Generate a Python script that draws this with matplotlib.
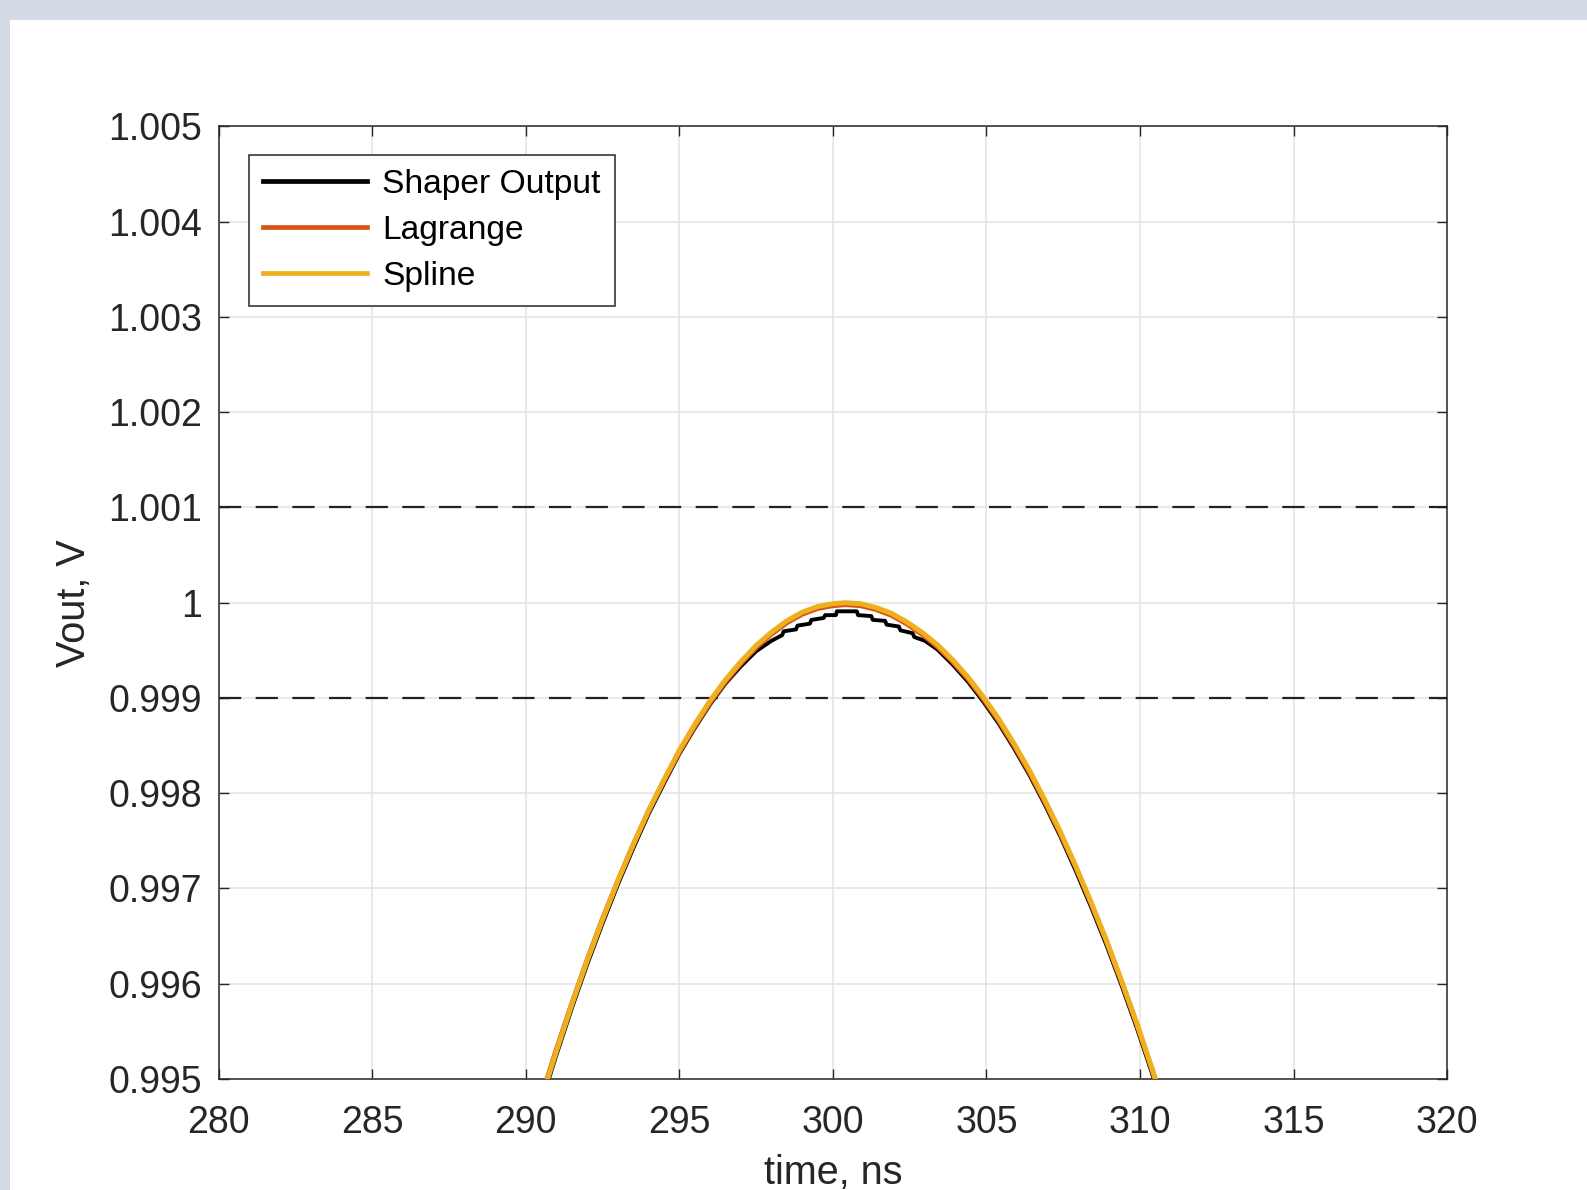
import matplotlib
matplotlib.use('Agg')
import matplotlib.pyplot as plt
from matplotlib.patches import Rectangle

plt.rcParams['font.family'] = ['Liberation Sans', 'DejaVu Sans']

# values
spline_t = [290.5, 291.0, 291.5, 292.0, 292.5, 293.0, 293.5, 294.0, 294.5, 295.0,
            295.5, 296.0, 296.5, 297.0, 297.5, 298.0, 298.5, 299.0, 299.5, 300.0,
            300.4, 300.9, 301.4, 301.9, 302.4, 302.9, 303.4, 303.9, 304.4, 304.9,
            305.4, 305.9, 306.4, 306.9, 307.4, 307.9, 308.4, 308.9, 309.4, 309.9,
            310.4, 310.9]
spline_v = [0.99478, 0.99529, 0.99578, 0.99624, 0.99667, 0.99708, 0.99746, 0.99782, 0.99814, 0.99845,
            0.99872, 0.99897, 0.99919, 0.99938, 0.99955, 0.99969, 0.99981, 0.99990, 0.99996, 0.99999,
            1.00000, 0.99999, 0.99995, 0.99989, 0.99980, 0.99969, 0.99956, 0.99940, 0.99922, 0.99901,
            0.99878, 0.99852, 0.99824, 0.99793, 0.99760, 0.99724, 0.99686, 0.99646, 0.99603, 0.99558,
            0.99510, 0.99460]

lagr_t = [290.5, 291.0, 291.5, 292.0, 292.5, 293.0, 293.5, 294.0, 294.5, 295.0,
          295.5, 296.0, 296.5, 297.0, 297.5, 298.0, 298.5, 299.0, 299.5, 300.0,
          300.4, 300.9, 301.4, 301.9, 302.4, 302.9, 303.4, 303.9, 304.4, 304.9,
          305.4, 305.9, 306.4, 306.9, 307.4, 307.9, 308.4, 308.9, 309.4, 309.9,
          310.4, 310.9]
lagr_v = [0.99480, 0.99531, 0.99579, 0.99625, 0.99668, 0.99708, 0.99746, 0.99781, 0.99813, 0.99843,
          0.99870, 0.99895, 0.99917, 0.99936, 0.99953, 0.99967, 0.99979, 0.99988, 0.99994, 0.99997,
          0.99998, 0.99997, 0.99993, 0.99987, 0.99978, 0.99967, 0.99954, 0.99938, 0.99920, 0.99899,
          0.99876, 0.99850, 0.99822, 0.99791, 0.99758, 0.99723, 0.99685, 0.99645, 0.99602, 0.99557,
          0.99509, 0.99459]

shaper_t = [290.5, 291.0, 291.5, 292.0, 292.5, 293.0, 293.5, 294.0, 294.5, 295.0,
            295.5, 296.0, 296.5, 297.0, 297.5, 298.0, 298.35, 298.4, 298.8, 298.85,
            299.25, 299.3, 299.7, 299.75, 300.1, 300.13, 300.78, 300.82, 301.25, 301.3,
            301.7, 301.75, 302.15, 302.2, 302.6, 302.65, 303.0, 303.4, 303.9, 304.4,
            304.9, 305.4, 305.9, 306.4, 306.9, 307.4, 307.9, 308.4, 308.9, 309.4,
            309.9, 310.4, 310.9]
shaper_v = [0.99474, 0.99525, 0.99574, 0.99620, 0.99663, 0.99704, 0.99742, 0.99778, 0.99810, 0.99841,
            0.99868, 0.99893, 0.99915, 0.99933, 0.99949, 0.99960, 0.99966, 0.99970, 0.99972, 0.99976,
            0.99978, 0.99982, 0.99984, 0.99987, 0.99987, 0.99991, 0.99991, 0.99987, 0.99986, 0.99982,
            0.99981, 0.99977, 0.99975, 0.99971, 0.99968, 0.99964, 0.99960, 0.99951, 0.99935, 0.99917,
            0.99896, 0.99873, 0.99847, 0.99819, 0.99788, 0.99755, 0.99719, 0.99681, 0.99641, 0.99598,
            0.99553, 0.99505, 0.99455]

limits_v = [1.001, 0.999]

xticks = [280, 285, 290, 295, 300, 305, 310, 315, 320]
yticks = [0.995, 0.996, 0.997, 0.998, 0.999, 1.000, 1.001, 1.002, 1.003, 1.004, 1.005]
ytick_labels = ['0.995', '0.996', '0.997', '0.998', '0.999', '1', '1.001', '1.002',
                '1.003', '1.004', '1.005']

fig = plt.figure(figsize=(15.87, 11.9), dpi=100, facecolor='white')
# grey frame of the screenshot
fig.patches.append(Rectangle((0, 1 - 20 / 1190), 1, 20 / 1190, transform=fig.transFigure,
                             fc='#d5dbe6', ec='none', zorder=-10))
fig.patches.append(Rectangle((0, 0), 10 / 1587, 1, transform=fig.transFigure,
                             fc='#d5dbe6', ec='none', zorder=-10))

ax = fig.add_axes([0.1377, 0.0933, 0.7742, 0.8004])
ink = '#262626'

ax.plot(shaper_t, shaper_v, color='black', lw=2.8, label='Shaper Output', zorder=3)
ax.plot(lagr_t, lagr_v, color='#d95319', lw=3.6, label='Lagrange', zorder=4)
ax.plot(spline_t, spline_v, color='#edb120', lw=3.6, label='Spline', zorder=5)
for v in limits_v:
    ax.axhline(v, color='#222222', lw=1.6, dashes=(10, 6.5), zorder=2)

ax.set_xlim(280, 320)
ax.set_ylim(0.995, 1.005)
ax.set_xticks(xticks)
ax.set_xticklabels([str(x) for x in xticks])
ax.set_yticks(yticks)
ax.set_yticklabels(ytick_labels)
ax.grid(True, color='#e3e3e3', lw=1.1, zorder=0)
ax.set_axisbelow(True)

ax.tick_params(direction='in', length=7, width=1.0, colors=ink, labelsize=27,
               top=True, right=True)
ax.tick_params(axis='x', pad=19)
ax.tick_params(axis='y', pad=12)
for s in ax.spines.values():
    s.set_color(ink)
    s.set_linewidth(1.1)

ax.set_xlabel('time, ns', fontsize=28.5, color=ink)
ax.set_ylabel('Vout, V', fontsize=28.5, color=ink)
ax.xaxis.set_label_coords(0.5, -0.079)
ax.yaxis.set_label_coords(-0.102, 0.5)

leg = ax.legend(loc='upper left', bbox_to_anchor=(0.0247, 0.970), borderaxespad=0,
                fontsize=24.2, fancybox=False, framealpha=1, edgecolor=ink,
                handlelength=3.1, handletextpad=0.45, labelspacing=0.44,
                borderpad=0.42)
leg.get_frame().set_linewidth(1.1)
for line in leg.get_lines():
    line.set_linewidth(3.4)

fig.savefig('out.png', dpi=100, facecolor='white')
